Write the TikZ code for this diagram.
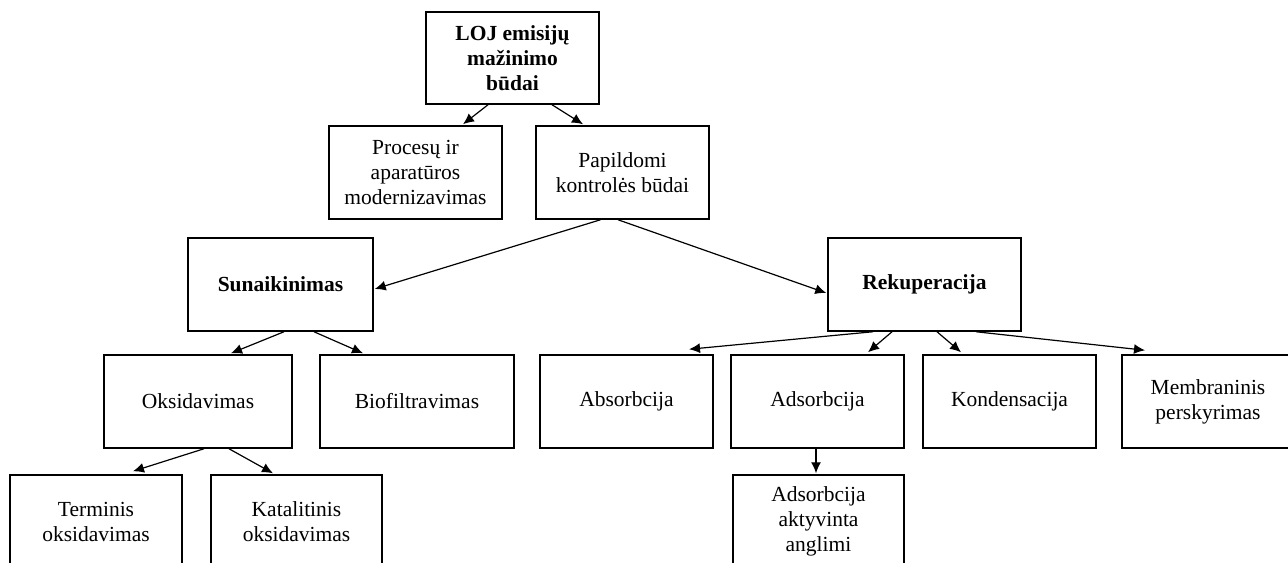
\documentclass[tikz,border=0pt]{standalone}
\usepackage{fontspec}
\setmainfont{Liberation Serif}
\usetikzlibrary{arrows.meta}

\begin{document}
\begin{tikzpicture}[x=0.5pt,y=-0.5pt]
        \tikzstyle{box}=[rectangle,draw=black,line width=0.75pt,inner sep=0pt,align=center,minimum width=86.5pt,minimum height=46.5pt,font=\fontsize{10.75}{12.5}\selectfont]
        \tikzstyle{headbox}=[box,font=\fontsize{10.75}{12.5}\selectfont\bfseries]
        \tikzstyle{link}=[-{Latex[length=5.5pt,width=5pt]},line width=0.6pt]
        \useasboundingbox (0,0) rectangle (1288,562);
        \clip (0,0) rectangle (1288,562);

        % top levels
        \node[headbox,minimum height=46pt] (loj) at (512.5,58) {LOJ emisijų\\mažinimo\\būdai};
        \node[box] (proc) at (415.5,172.5) {Procesų ir\\aparatūros\\modernizavimas};
        \node[box] (pap) at (622.5,172.5) {Papildomi\\kontrolės būdai};
        \node[headbox,minimum width=92.5pt] (sun) at (280.5,284.5) {Sunaikinimas};
        \node[headbox,minimum width=96.5pt] (rek) at (924.5,284.5) {Rekuperacija};

        % third row
        \node[box,minimum width=94pt] (oks) at (198,401.5) {Oksidavimas};
        \node[box,minimum width=97pt] (bio) at (417,401.5) {Biofiltravimas};
        \node[box] (abs) at (626.5,401.5) {Absorbcija};
        \node[box] (ads) at (817.5,401.5) {Adsorbcija};
        \node[box] (kon) at (1009.5,401.5) {Kondensacija};
        \node[box,minimum width=86pt] (mem) at (1208,401.5) {Membraninis\\perskyrimas};

        % bottom row (cut by the page)
        \node[box,minimum width=86pt] (term) at (96,521.5) {Terminis\\oksidavimas};
        \node[box,minimum width=85.5pt] (kat) at (296.5,521.5) {Katalitinis\\oksidavimas};
        \node[box,minimum width=85.5pt] (akt) at (818.5,521.5) {Adsorbcija\\aktyvinta\\anglimi};

        \draw[link] ([shift={(-24.5,0)}]loj.south) -- ([shift={(47.5,-1)}]proc.north);
        \draw[link] ([shift={(39.5,0)}]loj.south) -- ([shift={(-39.5,-1)}]pap.north);
        \draw[link] ([shift={(-22,0)}]pap.south) -- ([shift={(1,4.5)}]sun.east);
        \draw[link] ([shift={(-4.5,0)}]pap.south) -- ([shift={(-1,8.5)}]rek.west);

        \draw[link] ([shift={(3.5,0)}]sun.south) -- ([shift={(33,-1)}]oks.north);
        \draw[link] ([shift={(33.5,0)}]sun.south) -- ([shift={(-54,-1)}]bio.north);
        \draw[link] ([shift={(6,0)}]oks.south) -- ([shift={(37,-3)}]term.north);
        \draw[link] ([shift={(31,0)}]oks.south) -- ([shift={(-23.5,-1)}]kat.north);

        \draw[link] ([shift={(-51.5,0)}]rek.south) -- ([shift={(62.5,-5)}]abs.north);
        \draw[link] ([shift={(-32.5,0)}]rek.south) -- ([shift={(50.5,-2)}]ads.north);
        \draw[link] ([shift={(12.5,0)}]rek.south) -- ([shift={(-48.5,-2)}]kon.north);
        \draw[link] ([shift={(51.5,0)}]rek.south) -- ([shift={(-63,-4)}]mem.north);
        \draw[link] ([shift={(-1.5,0)}]ads.south) -- ([shift={(-2.5,-1)}]akt.north);
\end{tikzpicture}
\end{document}
